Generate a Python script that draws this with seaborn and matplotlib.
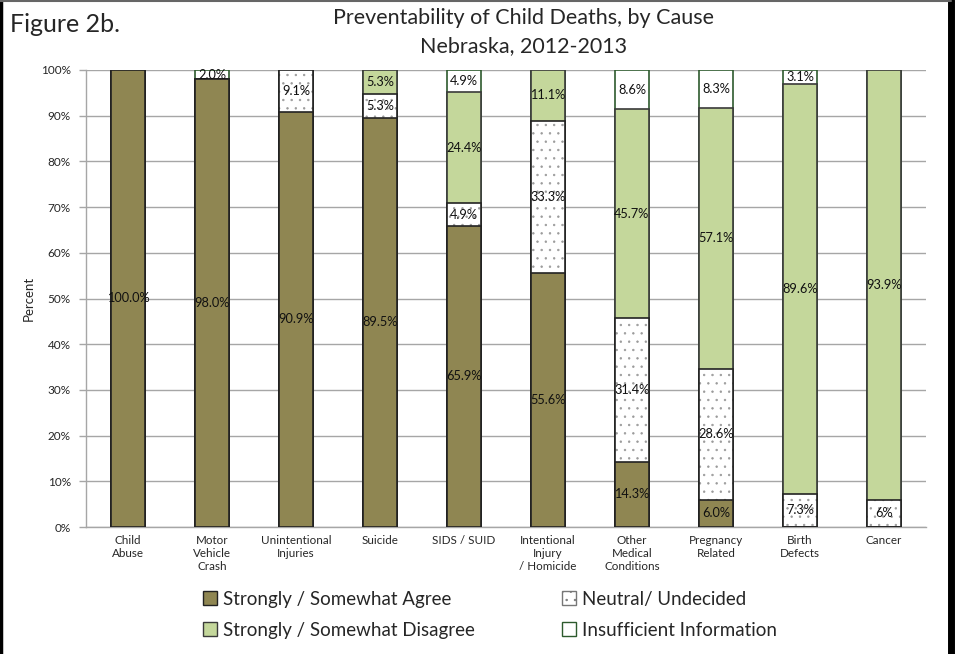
import matplotlib
matplotlib.use("Agg")
import matplotlib.pyplot as plt
import seaborn as sns
import numpy as np
import pandas as pd
from matplotlib.patches import Patch
from matplotlib.lines import Line2D

categories = ["Child\nAbuse", "Motor\nVehicle\nCrash", "Unintentional\nInjuries", "Suicide",
              "SIDS / SUID", "Intentional\nInjury\n/ Homicide", "Other\nMedical\nConditions",
              "Pregnancy\nRelated", "Birth\nDefects", "Cancer"]
agree = [100.0, 98.0, 90.9, 89.5, 65.9, 55.6, 14.3, 6.0, 0.0, 0.0]
neutral = [0.0, 0.0, 9.1, 5.3, 4.9, 33.3, 31.4, 28.6, 7.3, 6.0]
disagree = [0.0, 0.0, 0.0, 5.3, 24.4, 11.1, 45.7, 57.1, 89.6, 93.9]
insufficient = [0.0, 2.0, 0.0, 0.0, 4.9, 0.0, 8.6, 8.3, 3.1, 0.0]
agree_labels = ["100.0%", "98.0%", "90.9%", "89.5%", "65.9%", "55.6%", "14.3%", "6.0%", "", ""]
neutral_labels = ["", "", "9.1%", "5.3%", "4.9%", "33.3%", "31.4%", "28.6%", "7.3%", "6%"]
disagree_labels = ["", "", "", "5.3%", "24.4%", "11.1%", "45.7%", "57.1%", "89.6%", "93.9%"]
insufficient_labels = ["", "2.0%", "", "", "4.9%", "", "8.6%", "8.3%", "3.1%", ""]
series_names = ["Strongly / Somewhat Agree", "Neutral/ Undecided",
                "Strongly / Somewhat Disagree", "Insufficient Information"]

sns.set_theme(style="white")
plt.rcParams['font.family'] = ['Lato', 'DejaVu Sans']
plt.rcParams['hatch.linewidth'] = 0.5

C_AGREE = "#8f8652"
C_DIS = "#c4d79b"
C_INS_EDGE = "#2d5a2d"
C_HATCH = "#9a9a9a"

fig = plt.figure(figsize=(9.57, 6.54), dpi=100)
ax = fig.add_axes([86/957, 1-527/654, (926-86)/957, (527-70)/654])

a = np.array(agree); n = np.array(neutral); d = np.array(disagree); s = np.array(insufficient)
cum1 = a
cum2 = a + n
cum3 = cum2 + d
cum4 = cum3 + s

def layer(vals, fc, ec, hatch=None, lw=1.2, fill=True):
    df = pd.DataFrame({"cat": categories, "val": vals})
    if fill:
        sns.barplot(data=df, x="cat", y="val", color=fc, saturation=1, width=0.4,
                    edgecolor=ec, linewidth=lw, hatch=hatch, ax=ax, zorder=3)
    else:
        sns.barplot(data=df, x="cat", y="val", color=ec, saturation=1, width=0.4,
                    fill=False, linewidth=lw, ax=ax, zorder=3)

layer(cum4, "white", C_INS_EDGE)
layer(cum3, C_DIS, "#3a3a3a")
layer(cum2, "white", C_HATCH, hatch="..", lw=0)
layer(cum2, None, "#222222", fill=False)
layer(cum1, C_AGREE, "#222222")

# labels
for i in range(len(categories)):
    segs = [(0, agree[i], agree_labels[i]),
            (cum1[i], neutral[i], neutral_labels[i]),
            (cum2[i], disagree[i], disagree_labels[i]),
            (cum3[i], insufficient[i], insufficient_labels[i])]
    for b, v, lab in segs:
        if lab:
            ax.text(i, b + v/2, lab, ha="center", va="center", fontsize=9.2,
                    color="#111111", zorder=5)

ax.set_xlim(-0.5, len(categories) - 0.5)
ax.set_ylim(0, 100)
ax.set_yticks(np.arange(0, 101, 10))
ax.set_yticklabels([f"{v}%" for v in range(0, 101, 10)], fontsize=8.5)
ax.yaxis.grid(True, color="#a6a6a6", linewidth=1.0, zorder=0)
ax.set_axisbelow(True)
ax.set_xlabel("")
ax.set_ylabel("Percent", fontsize=9.5, labelpad=4)
ax.tick_params(axis="x", which="major", length=0, labelsize=8.4, pad=6)
ax.set_xticks(np.arange(-0.5, len(categories) + 0.5, 1), minor=True)
ax.tick_params(axis="x", which="minor", length=4, color="#a6a6a6", width=1)
ax.tick_params(axis="y", which="major", length=5, color="#a6a6a6", width=1, left=True, pad=6)
for side in ["top", "right"]:
    ax.spines[side].set_visible(False)
for side in ["left", "bottom"]:
    ax.spines[side].set_color("#a6a6a6")
    ax.spines[side].set_linewidth(1)

# title
fig.text(0.547, 0.972, "Preventability of Child Deaths, by Cause", ha="center", va="center", fontsize=15.5)
fig.text(0.547, 0.929, "Nebraska, 2012-2013", ha="center", va="center", fontsize=15.5)
fig.text(0.010, 0.962, "Figure 2b.", ha="left", va="center", fontsize=18)

# legend
handles = [
    Patch(facecolor=C_AGREE, edgecolor="#222222", label=series_names[0]),
    Patch(facecolor="white", edgecolor="#777777", hatch="..", label=series_names[1]),
    Patch(facecolor=C_DIS, edgecolor="#3a3a3a", label=series_names[2]),
    Patch(facecolor="white", edgecolor=C_INS_EDGE, label=series_names[3]),
]
order = [0, 2, 1, 3]
fig.legend([handles[k] for k in order], [series_names[k] for k in order], ncol=2,
           loc="center", bbox_to_anchor=(0.512, 0.060), frameon=False, fontsize=13.5,
           handlelength=0.75, handleheight=0.75, handletextpad=0.35, columnspacing=4.6,
           labelspacing=0.75)

# border
fig.add_artist(Line2D([0.001, 0.001], [0, 1], transform=fig.transFigure, color="black", linewidth=2.5))
fig.add_artist(Line2D([951/957, 951/957], [0, 1], transform=fig.transFigure, color="black", linewidth=5))
fig.add_artist(Line2D([0, 951/957], [0.999, 0.999], transform=fig.transFigure, color="#666666", linewidth=1.5))

fig.savefig("out.png", dpi=100)
